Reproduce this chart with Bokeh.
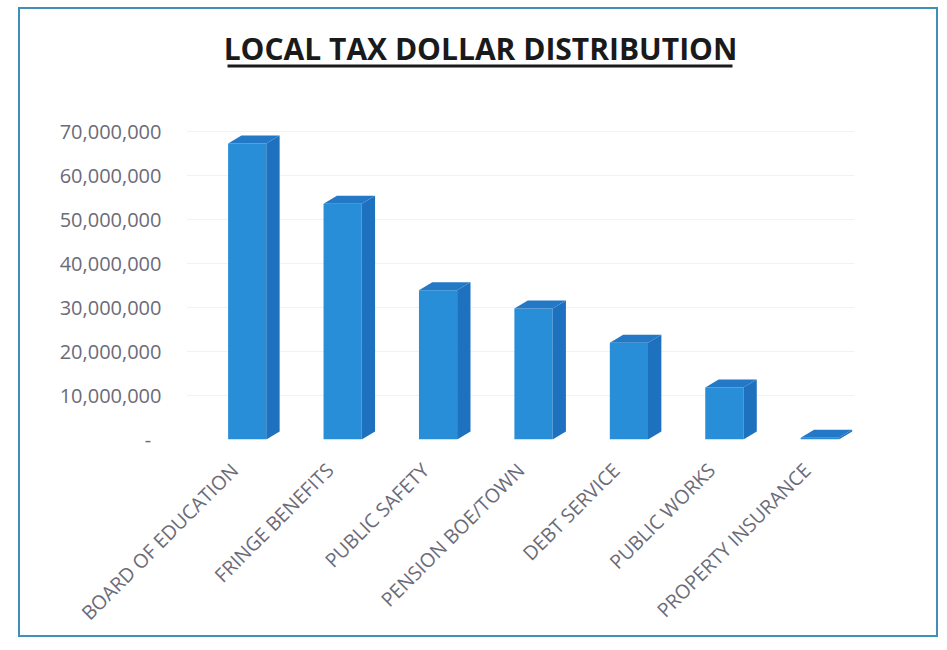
import math
from bokeh.plotting import figure
from bokeh.models import (FactorRange, Range1d, Label, BoxAnnotation,
                          NumeralTickFormatter, FixedTicker)
from bokeh.embed import file_html
from bokeh.resources import INLINE

# ---------------- data ----------------
categories = ["BOARD OF EDUCATION", "FRINGE BENEFITS", "PUBLIC SAFETY",
              "PENSION BOE/TOWN", "DEBT SERVICE", "PUBLIC WORKS",
              "PROPERTY INSURANCE"]
amounts = [67_300_000, 53_600_000, 33_900_000, 29_800_000,
           22_000_000, 11_800_000, 400_000]
y_ticks = [0, 10_000_000, 20_000_000, 30_000_000, 40_000_000,
           50_000_000, 60_000_000, 70_000_000]
title_text = "LOCAL TAX DOLLAR DISTRIBUTION"

# ---------------- style ----------------
FONT = "Open Sans"
LABEL_COLOR = "#6b6b78"
FRONT = "#288ED8"
SIDE = "#1D71BE"
TOP = "#2479C6"
HALF_W = 0.20          # half width of the front face (category units)
BAR_SHIFT = 0.136      # bars sit a little right of the label anchor
DEPTH_X = 0.14         # 3-D depth, horizontal (category units)
DEPTH_Y = 1_820_000    # 3-D depth, vertical (data units)

W, H = 920, 630
p = figure(x_range=FactorRange(factors=categories),
           y_range=Range1d(0, 95_230_000),
           width=W, height=H, title=None,
           output_backend="svg", toolbar_location=None,
           min_border_left=166, min_border_right=86,
           min_border_top=11, min_border_bottom=200,
           outline_line_color=None,
           styles={"border": "2px solid #3f8fb8"},
           margin=(7, 0, 0, 18))

centers = [i + 0.5 + BAR_SHIFT for i in range(len(categories))]

# front faces
p.vbar(x=centers, top=amounts, bottom=0, width=2 * HALF_W,
       fill_color=FRONT, line_color=None)

# side and top faces of the 3-D columns
side_xs, side_ys, top_xs, top_ys = [], [], [], []
for c, v in zip(centers, amounts):
    side_xs.append([c + HALF_W, c + HALF_W + DEPTH_X, c + HALF_W + DEPTH_X, c + HALF_W])
    side_ys.append([0, DEPTH_Y, v + DEPTH_Y, v])
    top_xs.append([c - HALF_W, c + HALF_W, c + HALF_W + DEPTH_X, c - HALF_W + DEPTH_X])
    top_ys.append([v, v, v + DEPTH_Y, v + DEPTH_Y])
p.patches(xs=side_xs, ys=side_ys, fill_color=SIDE, line_color=None)
p.patches(xs=top_xs, ys=top_ys, fill_color=TOP, line_color=None)

# axes
p.yaxis.ticker = FixedTicker(ticks=y_ticks)
p.yaxis.formatter = NumeralTickFormatter(format="0,0")
p.yaxis.major_label_overrides = {0: "-\u00a0\u00a0"}
p.yaxis.axis_line_color = None
p.yaxis.major_tick_line_color = None
p.yaxis.minor_tick_line_color = None
p.yaxis.major_label_standoff = 19
p.yaxis.major_label_text_font = FONT
p.yaxis.major_label_text_font_size = "20px"
p.yaxis.major_label_text_color = LABEL_COLOR

p.xaxis.axis_line_color = None
p.xaxis.major_tick_line_color = None
p.xaxis.major_label_orientation = math.pi / 4
p.xaxis.major_label_standoff = 21
p.xaxis.major_label_text_font = FONT
p.xaxis.major_label_text_font_size = "19.5px"
p.xaxis.major_label_text_color = LABEL_COLOR

p.xgrid.grid_line_color = None
p.ygrid.grid_line_color = "#f2f2f2"

# title with underline (screen units, measured from the frame's bottom-left)
p.add_layout(Label(x=294, y=391, x_units="screen", y_units="screen",
                   text=title_text, text_align="center",
                   text_baseline="alphabetic", text_font=FONT,
                   text_font_style="bold", text_font_size="30px",
                   text_color="#1a1a1a"))
p.add_layout(BoxAnnotation(left=41, right=546, top=375, bottom=372,
                           left_units="screen", right_units="screen",
                           top_units="screen", bottom_units="screen",
                           fill_color="#1a1a1a", fill_alpha=1.0,
                           line_color=None))

open("out.html", "w").write(file_html(p, INLINE))
